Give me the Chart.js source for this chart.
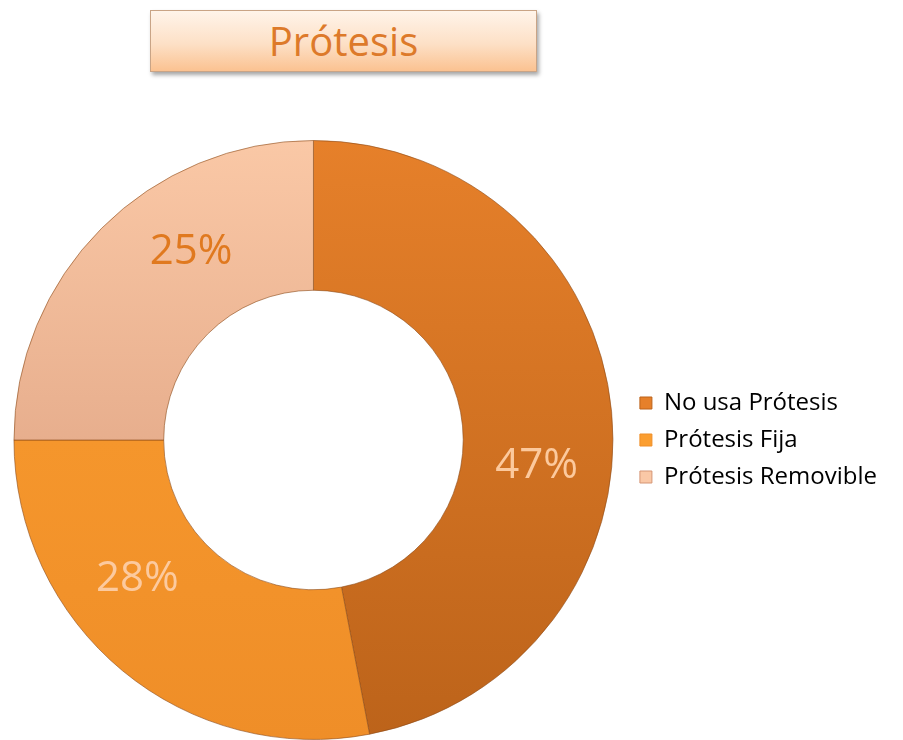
<!DOCTYPE html>
<html>
<head>
<meta charset="utf-8">
<script src="https://cdn.jsdelivr.net/npm/chart.js@4/dist/chart.umd.min.js"></script>
<style>
  html, body { margin: 0; padding: 0; background: #fff; }
  #wrap { position: relative; width: 903px; height: 740px; }
  #grafico { position: absolute; left: 0; top: 0; }
  #titulo {
    position: absolute; left: 150px; top: 10px; width: 385px; height: 60px;
    border: 1px solid #c9a486;
    background: linear-gradient(#fff4ea, #fde0c6 55%, #fbc291);
    box-shadow: 2px 3px 4px rgba(0,0,0,0.35);
    font-family: "Open Sans", sans-serif; font-size: 40px; line-height: 60px;
    text-align: center; color: #dd7a2a;
  }
</style>
</head>
<body>
<div id="wrap">
  <div id="titulo">Prótesis</div>
  <canvas id="grafico" width="903" height="740"></canvas>
</div>
<script>
var categorias = ["No usa Prótesis", "Prótesis Fija", "Prótesis Removible"];
var valores = [47, 28, 25];

// colores de cada porción: arriba / abajo del degradado
var coloresArriba = ["#e6802a", "#fb9e30", "#fac8a6"];
var coloresAbajo = ["#bc631a", "#ef8e28", "#d59575"];
var coloresEtiqueta = ["#fcc99d", "#fcca9f", "#e0791f"];

function degradado(context) {
    var chart = context.chart;
    var i = context.dataIndex;
    var area = chart.chartArea;
    if (!area) return coloresArriba[i];
    var g = chart.ctx.createLinearGradient(0, area.top, 0, area.bottom);
    g.addColorStop(0, coloresArriba[i]);
    g.addColorStop(1, coloresAbajo[i]);
    return g;
}

// porcentajes sobre cada porción
var etiquetas = {
    id: 'etiquetas',
    afterDatasetsDraw: function (chart) {
        var ctx = chart.ctx;
        var meta = chart.getDatasetMeta(0);
        ctx.save();
        ctx.font = '42px "Open Sans", sans-serif';
        ctx.textAlign = 'center';
        ctx.textBaseline = 'middle';
        meta.data.forEach(function (arc, i) {
            var p = arc.getProps(['x', 'y', 'startAngle', 'endAngle', 'innerRadius', 'outerRadius']);
            var ang = (p.startAngle + p.endAngle) / 2 + 0.21;
            var r = (p.innerRadius + p.outerRadius) / 2;
            ctx.fillStyle = coloresEtiqueta[i];
            ctx.fillText(valores[i] + '%', p.x + r * Math.cos(ang), p.y + r * Math.sin(ang));
        });
        ctx.restore();
    }
};

var ctx = document.getElementById('grafico').getContext('2d');
var chart = new Chart(ctx, {
    type: 'doughnut',
    data: {
        labels: categorias,
        datasets: [{
            data: valores,
            backgroundColor: degradado,
            borderColor: 'rgba(140,75,25,0.6)',
            borderWidth: 1
        }]
    },
    options: {
        responsive: false,
        animation: false,
        cutout: '50%',
        layout: { padding: { top: 140, left: 0, right: 16, bottom: 0 } },
        plugins: {
            tooltip: { enabled: false },
            legend: {
                position: 'right',
                labels: {
                    boxWidth: 12,
                    boxHeight: 12,
                    padding: 13,
                    color: '#3c3c3c',
                    font: { family: '"Open Sans", sans-serif', size: 24 },
                    generateLabels: function (chart) {
                        return categorias.map(function (c, i) {
                            return {
                                text: c,
                                fillStyle: coloresArriba[i],
                                strokeStyle: coloresAbajo[i],
                                lineWidth: 1,
                                index: i
                            };
                        });
                    }
                }
            }
        }
    },
    plugins: [etiquetas]
});
</script>
</body>
</html>
